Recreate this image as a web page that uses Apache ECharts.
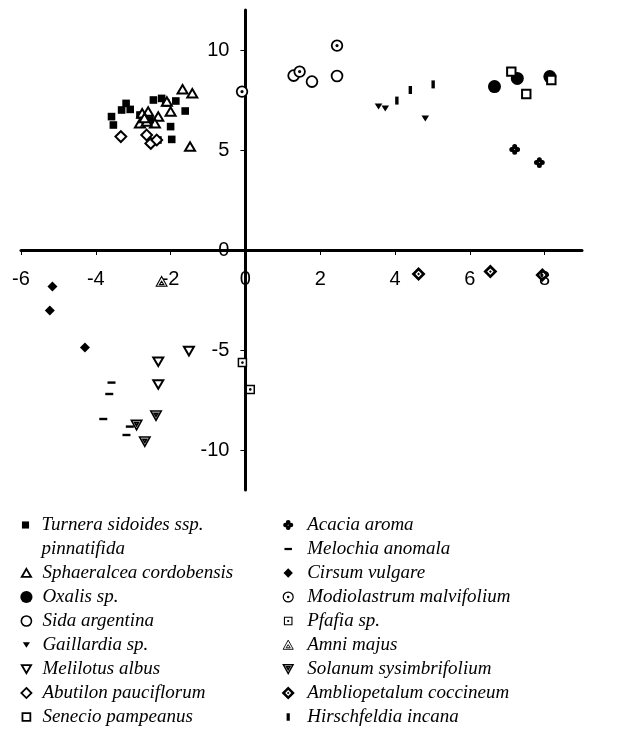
<!DOCTYPE html>
<html>
<head>
<meta charset="utf-8">
<script src="https://cdn.jsdelivr.net/npm/echarts@6/dist/echarts.min.js"></script>
<style>
html,body{margin:0;padding:0;background:#fff;}
#chart{width:618px;height:736px;}
</style>
</head>
<body>
<div id="chart"></div>
<script>
// ---------------- data ----------------
var seriesNames = [
  'Turnera sidoides ssp. pinnatifida',
  'Sphaeralcea cordobensis',
  'Oxalis sp.',
  'Sida argentina',
  'Gaillardia sp.',
  'Melilotus albus',
  'Abutilon pauciflorum',
  'Senecio pampeanus',
  'Acacia aroma',
  'Melochia anomala',
  'Cirsum vulgare',
  'Modiolastrum malvifolium',
  'Pfafia sp.',
  'Amni majus',
  'Solanum sysimbrifolium',
  'Ambliopetalum coccineum',
  'Hirschfeldia incana'
];
var turnera = [[-3.53,6.25],[-3.58,6.67],[-3.31,7.0],[-3.19,7.33],[-3.08,7.03],[-2.46,7.5],[-2.24,7.58],[-1.86,7.45],[-1.61,6.95],[-2.0,6.17],[-1.97,5.53],[-2.34,5.5],[-2.13,7.35],[-2.82,6.75],[-2.55,6.5]];
var sphaeralcea = [[-1.68,8.03],[-1.42,7.83],[-1.48,5.17],[-2.1,7.42],[-2.0,6.92],[-2.6,6.92],[-2.76,6.83],[-2.33,6.67],[-2.82,6.33],[-2.42,6.33],[-2.64,6.42],[-2.7,6.6]];
var oxalis = [[6.66,8.17],[7.27,8.58],[8.14,8.67]];
var sida = [[1.29,8.72],[1.78,8.42],[2.45,8.7]];
var gaillardia = [[3.56,7.17],[3.74,7.08],[4.81,6.58]];
var melilotus = [[-1.51,-5.05],[-2.33,-5.58],[-2.33,-6.72]];
var abutilon = [[-3.33,5.67],[-2.64,5.75],[-2.53,5.33],[-2.37,5.5]];
var senecio = [[7.11,8.92],[7.51,7.8],[8.18,8.5]];
var acacia = [[7.2,5.03],[7.86,4.37]];
var melochia = [[-3.58,-6.63],[-3.64,-7.2],[-3.8,-8.45],[-3.09,-8.83],[-3.18,-9.25]];
var cirsum = [[-5.16,-1.83],[-5.23,-3.03],[-4.29,-4.87]];
var modiolastrum = [[-0.09,7.92],[2.45,10.22],[1.45,8.92]];
var pfafia = [[-0.08,-5.63],[0.13,-6.97]];
var amni = [[-2.24,-1.58]];
var solanum = [[-2.39,-8.28],[-2.91,-8.75],[-2.69,-9.58]];
var ambliopetalum = [[4.63,-1.2],[6.55,-1.08],[7.94,-1.25]];
var hirschfeldia = [[4.05,7.47],[4.41,8.0],[5.02,8.28]];
var allData = [turnera, sphaeralcea, oxalis, sida, gaillardia, melilotus, abutilon, senecio,
  acacia, melochia, cirsum, modiolastrum, pfafia, amni, solanum, ambliopetalum, hirschfeldia];
var xTicks = [-6,-4,-2,0,2,4,6,8];
var yTicks = [-10,-5,0,5,10];

// ---------------- marker shapes (16x16 frame) ----------------
var FRAME = 'M0 0 M16 16 ';
function circ(cx, cy, r, ccw) {
  var s = ccw ? 0 : 1;
  return 'M' + (cx - r) + ' ' + cy + ' A' + r + ' ' + r + ' 0 1 ' + s + ' ' + (cx + r) + ' ' + cy +
         ' A' + r + ' ' + r + ' 0 1 ' + s + ' ' + (cx - r) + ' ' + cy + ' Z ';
}
function poly(pts) {
  return 'M' + pts.map(function (p) { return p[0] + ' ' + p[1]; }).join(' L') + ' Z ';
}
var P = function (s) { return 'path://' + FRAME + s; };
var symbols = [
  P(poly([[4.2,4.2],[11.8,4.2],[11.8,11.8],[4.2,11.8]])),                         // filled square
  P(poly([[8,3.6],[13,12.2],[3,12.2]])),                                          // open triangle
  P(circ(8,8,6.5)),                                                               // filled circle
  P(circ(8,8,5.4)),                                                               // open circle
  P(poly([[4.2,5],[11.8,5],[8,11]])),                                             // small filled down triangle
  P(poly([[3,3.8],[13,3.8],[8,12.4]])),                                           // open down triangle
  P(poly([[8,2.6],[13.4,8],[8,13.4],[2.6,8]])),                                   // open diamond
  P(poly([[3.8,3.8],[12.2,3.8],[12.2,12.2],[3.8,12.2]])),                         // open square
  P(circ(8,5.1,2.5) + circ(10.9,8,2.5) + circ(8,10.9,2.5) + circ(5.1,8,2.5) +
    poly([[6,6],[10,6],[10,10],[6,10]]) + circ(8,8,1.0,true)),                     // club with hole
  P(poly([[4,6.8],[12,6.8],[12,9.2],[4,9.2]])),                                   // dash
  P(poly([[8,3],[13,8],[8,13],[3,8]])),                                           // filled diamond
  P(circ(8,8,5.3) + circ(8,8,0.7)),                                               // circle with dot
  P(poly([[4,4],[12,4],[12,12],[4,12]]) + circ(8,8,0.6)),                         // square with dot
  P(poly([[8,2.8],[13.4,12.6],[2.6,12.6]]) + poly([[8,7.6],[10.2,11],[5.8,11]])), // triangle in triangle
  P(poly([[2.8,3.4],[13.2,3.4],[8,12.8]]) + poly([[6.2,5.6],[9.8,5.6],[8,8.8]])), // down triangle in triangle
  P(poly([[8,1],[15,8],[8,15],[1,8]]) + poly([[8,4.8],[4.8,8],[8,11.2],[11.2,8]]) +
    poly([[8,6.6],[9.4,8],[8,9.4],[6.6,8]])),                                       // diamond with ring
  P(poly([[6.3,4],[9.7,4],[9.7,12],[6.3,12]]))                                    // vertical bar
];
var openShape = [false,true,false,true,false,true,true,true,false,false,false,true,true,true,true,false,false];
var borderW =   [0,2,0,1.8,0,2,2,2,0,0,0,1.8,1.5,1.1,1.6,0,0];
var legendBorderW = [0,1.8,0,1.6,0,1.8,1.8,1.8,0,0,0,1.2,1.1,0.9,1.4,0,0];

var series = seriesNames.map(function (name, i) {
  return {
    name: name,
    type: 'scatter',
    data: allData[i],
    symbol: symbols[i],
    symbolSize: 16,
    z: 3,
    itemStyle: openShape[i]
      ? { color: '#fff', borderColor: '#000', borderWidth: borderW[i], opacity: 1 }
      : { color: '#000', borderColor: 'rgba(0,0,0,0)', borderWidth: 0, opacity: 1 },
    emphasis: { disabled: true }
  };
});

function legendData(idx) {
  return idx.map(function (i) {
    return {
      name: seriesNames[i], icon: symbols[i],
      itemStyle: openShape[i]
        ? { color: '#fff', borderColor: '#000', borderWidth: legendBorderW[i], opacity: 1 }
        : { color: '#000', borderColor: 'rgba(0,0,0,0)', borderWidth: 0, opacity: 1 }
    };
  });
}
var legendText = {
  fontFamily: 'Liberation Serif', fontStyle: 'italic', fontSize: 19, color: '#000', lineHeight: 24
};

var chart = echarts.init(document.getElementById('chart'), null, { renderer: 'canvas' });
chart.setOption({
  animation: false,
  backgroundColor: '#fff',
  grid: { left: 21, right: 36, top: 10, bottom: 246, containLabel: false, outerBoundsMode: 'none' },
  xAxis: {
    type: 'value', min: -6, max: 9, interval: 1, position: 'bottom', offset: -240,
    splitLine: { show: false },
    axisLine: { onZero: false, lineStyle: { color: '#000', width: 3 } },
    axisTick: { show: true, length: 5, customValues: xTicks, lineStyle: { color: '#000', width: 1 } },
    axisLabel: { customValues: xTicks, margin: 19, color: '#000', fontFamily: 'Liberation Sans', fontSize: 20 }
  },
  yAxis: {
    type: 'value', min: -12, max: 12, interval: 1, position: 'left', offset: -224.4,
    splitLine: { show: false },
    axisLine: { onZero: false, lineStyle: { color: '#000', width: 3 } },
    axisTick: { show: true, length: 5, customValues: yTicks, lineStyle: { color: '#000', width: 1 } },
    axisLabel: { customValues: yTicks, margin: 16, color: '#000', fontFamily: 'Liberation Sans', fontSize: 20 }
  },
  legend: [
    {
      orient: 'vertical', left: 13, top: 484, itemWidth: 22, itemHeight: 15, itemGap: 0,
      data: legendData([0]),
      formatter: function () { return ' \nTurnera sidoides ssp.\npinnatifida'; },
      textStyle: legendText,
      selectedMode: false
    },
    {
      orient: 'vertical', left: 13, top: 556, itemWidth: 22, itemHeight: 15, itemGap: 0,
      data: legendData([1,2,3,4,5,6,7]),
      textStyle: legendText,
      selectedMode: false
    },
    {
      orient: 'vertical', left: 275, top: 508, itemWidth: 28, itemHeight: 15, itemGap: 0,
      data: legendData([8,9,10,11,12,13,14,15,16]),
      textStyle: legendText,
      selectedMode: false
    }
  ],
  series: series
});
</script>
</body>
</html>
